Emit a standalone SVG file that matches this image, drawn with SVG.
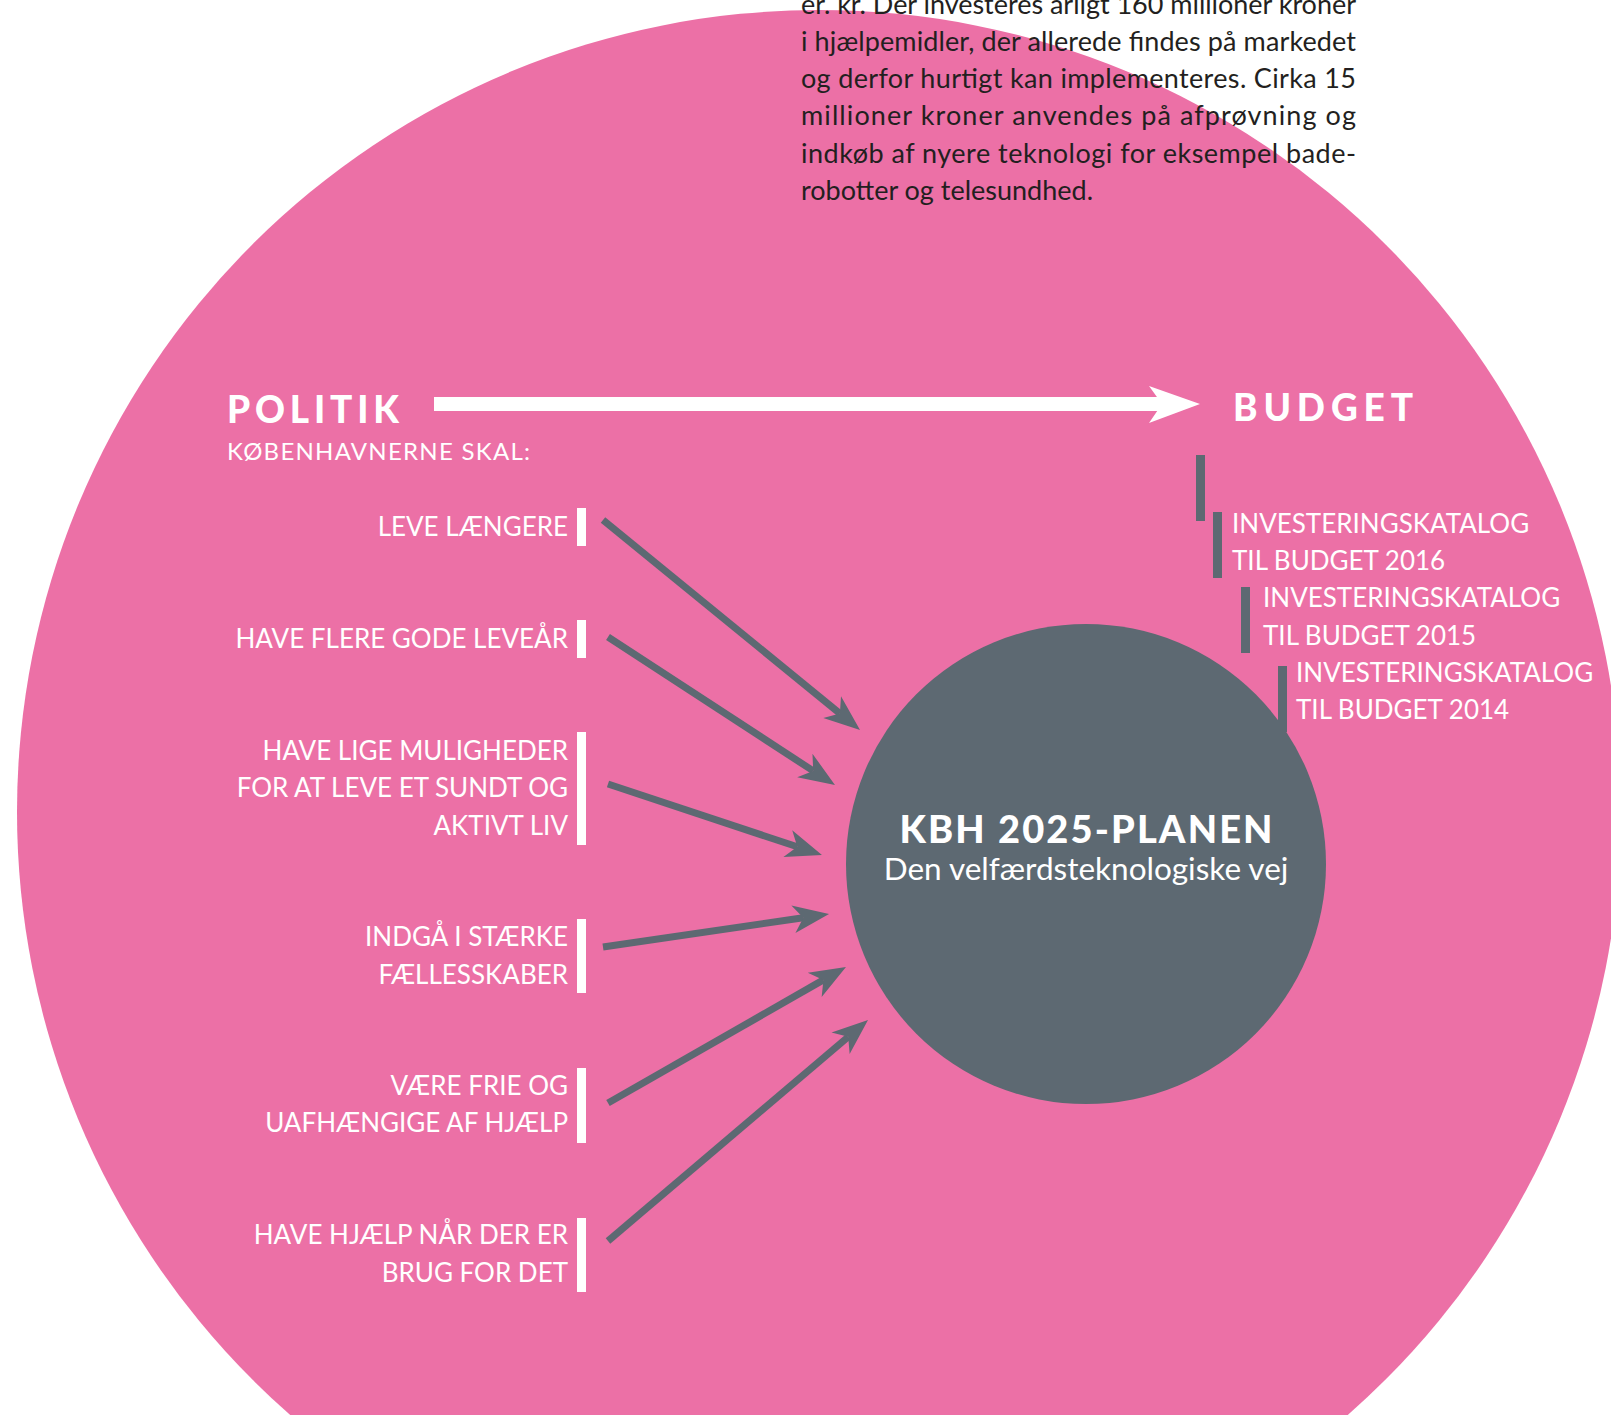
<svg xmlns="http://www.w3.org/2000/svg" width="1611" height="1415" viewBox="0 0 1611 1415">
  <style>
    text { font-family: "Lato", "Open Sans", "DejaVu Sans", sans-serif; }
    .para { fill: #231f20; font-size: 27px; }
    .lbl { fill: #ffffff; font-size: 26px; text-anchor: end; }
    .inv { fill: #ffffff; font-size: 26px; }
    .head { fill: #ffffff; font-size: 37px; font-weight: 900; }
    .sub { fill: #ffffff; font-size: 24px; }
    .wbar { fill: #ffffff; }
    .gbar { fill: #5d6972; }
    .conn { stroke: #5d6972; stroke-width: 7; fill: none; marker-end: url(#ah); }
  </style>
  <defs>
    <marker id="ah" markerUnits="userSpaceOnUse" orient="auto" refX="0" refY="0" markerWidth="40" markerHeight="40" overflow="visible">
      <path d="M26,0 L-10,-14 L0,0 L-10,14 Z" fill="#5d6972"/>
    </marker>
  </defs>
  <rect width="1611" height="1415" fill="#ffffff"/>
  <circle id="bg-circle" cx="819" cy="812" r="802" fill="#ec70a6"/>

  <g id="paragraph" class="para">
    <text x="801" y="14" textLength="555" lengthAdjust="spacing" class="para">er. kr. Der investeres årligt 160 millioner kroner</text>
    <text x="801" y="51" textLength="555" lengthAdjust="spacing" class="para">i hjælpemidler, der allerede findes på markedet</text>
    <text x="801" y="88" textLength="555" lengthAdjust="spacing" class="para">og derfor hurtigt kan implementeres. Cirka 15</text>
    <text x="801" y="125" textLength="555" lengthAdjust="spacing" class="para">millioner kroner anvendes på afprøvning og</text>
    <text x="801" y="163" textLength="555" lengthAdjust="spacing" class="para">indkøb af nyere teknologi for eksempel bade-</text>
    <text x="801" y="200" class="para">robotter og telesundhed.</text>
  </g>

  <g id="politik">
    <text x="227" y="423" class="head" textLength="172" lengthAdjust="spacing">POLITIK</text>
    <text x="227" y="460" class="sub" textLength="303" lengthAdjust="spacing">KØBENHAVNERNE SKAL:</text>
  </g>

  <g id="politik-budget-arrow">
    <rect x="434" y="397" width="728" height="14" fill="#ffffff"/>
    <path d="M1200,404 L1149,386 L1162,404 L1149,423 Z" fill="#ffffff"/>
  </g>

  <g id="budget">
    <text x="1233" y="421" class="head" textLength="180" lengthAdjust="spacing">BUDGET</text>
    <rect class="gbar" x="1196" y="455" width="9" height="66"/>
  </g>

  <g id="kbh2025">
    <circle cx="1086" cy="864" r="240" fill="#5d6972"/>
    <text x="1086" y="843" text-anchor="middle" fill="#ffffff" font-size="38" font-weight="900" textLength="373" lengthAdjust="spacing">KBH 2025-PLANEN</text>
    <text x="1086" y="880" text-anchor="middle" fill="#ffffff" font-size="31.5">Den velfærdsteknologiske vej</text>
  </g>

  <g id="inv2016">
    <rect class="gbar" x="1213" y="512" width="9" height="66"/>
    <text x="1232" y="533" class="inv">INVESTERINGSKATALOG</text>
    <text x="1232" y="570" class="inv">TIL BUDGET 2016</text>
  </g>
  <g id="inv2015">
    <rect class="gbar" x="1241" y="587" width="9" height="66"/>
    <text x="1263" y="607" class="inv">INVESTERINGSKATALOG</text>
    <text x="1263" y="645" class="inv">TIL BUDGET 2015</text>
  </g>
  <g id="inv2014">
    <rect class="gbar" x="1278" y="666" width="9" height="66"/>
    <text x="1296" y="682" class="inv">INVESTERINGSKATALOG</text>
    <text x="1296" y="719" class="inv">TIL BUDGET 2014</text>
  </g>

  <g id="goal1">
    <rect class="wbar" x="577" y="508" width="9" height="38"/>
    <text x="568" y="536" class="lbl">LEVE LÆNGERE</text>
  </g>
  <g id="goal2">
    <rect class="wbar" x="577" y="620" width="9" height="38"/>
    <text x="568" y="648" class="lbl">HAVE FLERE GODE LEVEÅR</text>
  </g>
  <g id="goal3">
    <rect class="wbar" x="577" y="732" width="9" height="113"/>
    <text x="568" y="760" class="lbl">HAVE LIGE MULIGHEDER</text>
    <text x="568" y="797" class="lbl">FOR AT LEVE ET SUNDT OG</text>
    <text x="568" y="835" class="lbl">AKTIVT LIV</text>
  </g>
  <g id="goal4">
    <rect class="wbar" x="577" y="919" width="9" height="74"/>
    <text x="568" y="946" class="lbl">INDGÅ I STÆRKE</text>
    <text x="568" y="984" class="lbl">FÆLLESSKABER</text>
  </g>
  <g id="goal5">
    <rect class="wbar" x="577" y="1068" width="9" height="75"/>
    <text x="568" y="1095" class="lbl">VÆRE FRIE OG</text>
    <text x="568" y="1132" class="lbl">UAFHÆNGIGE AF HJÆLP</text>
  </g>
  <g id="goal6">
    <rect class="wbar" x="577" y="1218" width="9" height="74"/>
    <text x="568" y="1244" class="lbl">HAVE HJÆLP NÅR DER ER</text>
    <text x="568" y="1282" class="lbl">BRUG FOR DET</text>
  </g>

  <g id="connectors">
    <line class="conn" x1="603" y1="520" x2="839.9" y2="713.5"/>
    <line class="conn" x1="608" y1="637" x2="813.2" y2="770.9"/>
    <line class="conn" x1="608" y1="784" x2="797.3" y2="846.8"/>
    <line class="conn" x1="603" y1="947" x2="803.3" y2="917.8"/>
    <line class="conn" x1="608" y1="1103" x2="823.4" y2="979.9"/>
    <line class="conn" x1="608" y1="1241" x2="848.2" y2="1036.8"/>
  </g>
</svg>
